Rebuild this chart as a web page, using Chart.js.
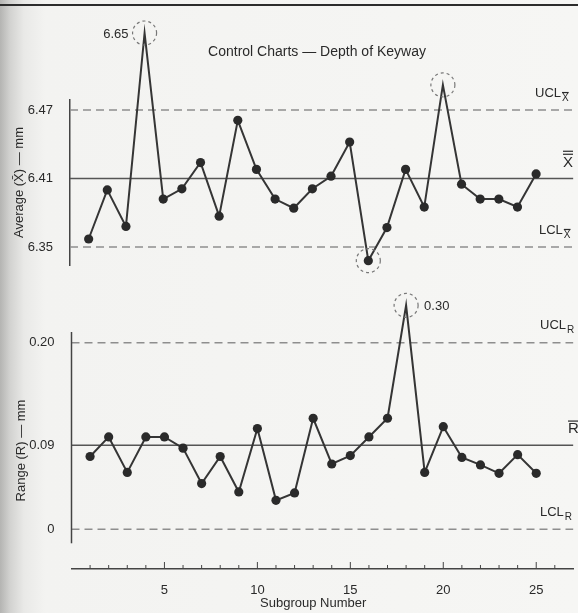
<!DOCTYPE html>
<html>
<head>
<meta charset="utf-8">
<script src="https://cdn.jsdelivr.net/npm/chart.js@4.4.1/dist/chart.umd.min.js"></script>
<style>
  html, body { margin: 0; padding: 0; }
  body {
    width: 578px; height: 613px; overflow: hidden; position: relative;
    background: linear-gradient(to right, #b4b4b2 0px, #d2d2d0 10px, #e9e9e7 24px, #f3f3f1 45px, #f6f6f4 100%);
  }
  #rule { position: absolute; left: 0; top: 4px; width: 578px; height: 2px; background: #2c2c2c; }
  canvas { position: absolute; left: 0; top: 0; }
</style>
</head>
<body>
<div id="rule"></div>
<canvas id="rangeChart" width="578" height="613"></canvas>
<canvas id="xbarChart" width="578" height="613"></canvas>
<script>
// subgroup numbers and the plotted values
const subgroups = [1, 2, 3, 4, 5, 6, 7, 8, 9, 10, 11, 12, 13, 14, 15, 16, 17, 18, 19, 20, 21, 22, 23, 24, 25];
const xbarValues = [6.357, 6.40, 6.368, 6.65, 6.392, 6.401, 6.424, 6.377, 6.461, 6.418, 6.392, 6.384, 6.401,
                    6.412, 6.442, 6.338, 6.367, 6.418, 6.385, 6.492, 6.405, 6.392, 6.392, 6.385, 6.414];
const rangeValues = [0.078, 0.099, 0.061, 0.099, 0.099, 0.087, 0.049, 0.078, 0.040, 0.108, 0.031, 0.039, 0.119,
                     0.070, 0.079, 0.099, 0.119, 0.30, 0.061, 0.110, 0.077, 0.069, 0.060, 0.080, 0.060];

// control limits [LCL, centre, UCL] = also the y tick labels
const xbarLimits = [6.35, 6.41, 6.47];
const rangeLimits = [0, 0.09, 0.20];
const xTicks = [5, 10, 15, 20, 25];

// points ringed in the figure (out of control)
const xbarCircled = [4, 16, 20];
const rangeCircled = [18];

const X_MIN = 0, X_MAX = 27;
const INK = '#2a2a2a';
const FONT = '"Liberation Sans", Arial, Helvetica, sans-serif';

Chart.defaults.font.family = FONT;
Chart.defaults.font.size = 13;
Chart.defaults.color = INK;

// linear scale with a compressed zone above breakAt (the figure's broken scale)
class BrokenScale extends Chart.LinearScale {
  getPixelForValue(value) {
    const at = this.options.breakAt, k = this.options.breakRatio;
    if (at != null && value > at) value = at + (value - at) * k;
    return super.getPixelForValue(value);
  }
}
BrokenScale.id = 'broken';
BrokenScale.defaults = Chart.LinearScale.defaults;
Chart.register(BrokenScale);

function limitLine(y, dashed, color) {
  return {
    data: [{ x: X_MIN, y: y }, { x: X_MAX, y: y }],
    borderColor: color, borderWidth: 1.5, borderDash: dashed ? [8, 5] : [],
    pointRadius: 0, fill: false
  };
}

function seriesSet(values) {
  return {
    data: subgroups.map((s, i) => ({ x: s, y: values[i] })),
    borderColor: '#353535', borderWidth: 2, tension: 0,
    pointRadius: 4.6, pointBackgroundColor: '#2a2a2a', pointBorderWidth: 0,
    clip: false
  };
}

// symbol letter with optional bars over it
function symbol(ctx, x, y, letter, size, bars) {
  ctx.font = size + 'px ' + FONT;
  ctx.textAlign = 'left';
  ctx.textBaseline = 'middle';
  ctx.fillText(letter, x, y);
  const w = ctx.measureText(letter).width;
  ctx.lineWidth = 1.2;
  for (let b = 0; b < bars; b++) {
    const by = y - size * 0.55 - b * 3;
    ctx.beginPath(); ctx.moveTo(x, by); ctx.lineTo(x + w, by); ctx.stroke();
  }
  return w;
}

const decor = {
  id: 'decor',
  afterDatasetsDraw(chart, args, o) {
    const ctx = chart.ctx, ys = chart.scales.y;
    const pts = chart.getDatasetMeta(0).data;
    ctx.save();
    ctx.fillStyle = INK; ctx.strokeStyle = INK;

    // dashed rings
    ctx.setLineDash([3, 3]); ctx.lineWidth = 1.2; ctx.strokeStyle = '#777';
    o.circled.forEach(s => {
      const p = pts[s - 1];
      ctx.beginPath(); ctx.arc(p.x, p.y, 12, 0, Math.PI * 2); ctx.stroke();
    });
    ctx.setLineDash([]);
    ctx.strokeStyle = INK;

    // value note beside the ringed extreme
    ctx.font = '13px ' + FONT; ctx.textBaseline = 'middle';
    const p = pts[o.note - 1];
    const left = o.noteSide === 'left';
    ctx.textAlign = left ? 'right' : 'left';
    ctx.fillText(o.values[o.note - 1].toFixed(2), p.x + (left ? -16 : 18), p.y + 1);

    // limit labels on the right
    const [lcl, cl, ucl] = o.limits;
    let y = ys.getPixelForValue(ucl) - 17;
    ctx.font = '13px ' + FONT; ctx.textAlign = 'left';
    ctx.fillText('UCL', o.uclX, y);
    let w = ctx.measureText('UCL').width;
    symbol(ctx, o.uclX + w + 1, y + 5, o.letter, 10, o.subBars);

    y = ys.getPixelForValue(lcl) - 17;
    ctx.font = '13px ' + FONT;
    ctx.fillText('LCL', o.lclX, y);
    w = ctx.measureText('LCL').width;
    symbol(ctx, o.lclX + w + 1, y + 5, o.letter, 10, o.subBars);

    y = ys.getPixelForValue(cl) - 16;
    symbol(ctx, o.clX, y, o.letter, 15, o.subBars + 1);

    ctx.restore();
  }
};

const extras = {
  id: 'extras',
  afterDraw(chart, args, o) {
    const ctx = chart.ctx, ys = chart.scales.y, xs = chart.scales.x, a = chart.chartArea;
    ctx.save();
    ctx.fillStyle = INK;
    if (o.title) {
      ctx.font = '14px ' + FONT; ctx.textAlign = 'center'; ctx.textBaseline = 'middle';
      ctx.fillText(o.title, 317, 52);
    }
    if (o.bottomAxis) {
      ctx.strokeStyle = '#444'; ctx.lineWidth = 1.5;
      // y axis stops short of the subgroup axis
      ctx.beginPath();
      ctx.moveTo(a.left, a.top); ctx.lineTo(a.left, ys.getPixelForValue(o.axisEnd));
      ctx.stroke();
      // small ticks pointing up from the subgroup axis
      ctx.lineWidth = 1;
      for (let s = 1; s < X_MAX; s++) {
        const x = xs.getPixelForValue(s);
        ctx.beginPath(); ctx.moveTo(x, a.bottom); ctx.lineTo(x, a.bottom - (s % 5 === 0 ? 7 : 4)); ctx.stroke();
      }
      ctx.font = '13px ' + FONT; ctx.textAlign = 'center'; ctx.textBaseline = 'middle';
      ctx.fillText('Subgroup Number', xs.getPixelForValue(13), 603);
    }
    ctx.restore();
  }
};

new Chart(document.getElementById('xbarChart'), {
  type: 'line',
  data: {
    datasets: [
      seriesSet(xbarValues),
      limitLine(xbarLimits[2], true, '#8e8e8e'),
      limitLine(xbarLimits[1], false, '#555'),
      limitLine(xbarLimits[0], true, '#8e8e8e')
    ]
  },
  options: {
    responsive: false, animation: false, devicePixelRatio: 1,
    layout: { padding: { left: 8, top: 100, right: 0, bottom: 348 } },
    plugins: {
      legend: { display: false }, tooltip: { enabled: false },
      decor: { circled: xbarCircled, note: 4, noteSide: 'left', values: xbarValues, limits: xbarLimits,
               letter: 'X', subBars: 1, uclX: 535, lclX: 539, clX: 563 },
      extras: { title: 'Control Charts \u2014 Depth of Keyway' }
    },
    scales: {
      x: { type: 'linear', min: X_MIN, max: X_MAX, display: false },
      y: {
        type: 'broken', min: 6.3342, max: 6.4788, bounds: 'data',
        breakAt: 6.50, breakRatio: 0.25,
        afterFit: s => { s.width = 62; },
        afterBuildTicks: s => { s.ticks = xbarLimits.map(v => ({ value: v })); },
        grid: { display: false },
        border: { display: true, color: '#444', width: 1.5 },
        ticks: { padding: 9, color: INK, callback: v => v.toFixed(2) },
        title: { display: true, text: 'Average (X\u0304) \u2014 mm', color: INK, font: { size: 13 }, padding: { top: 4, bottom: 0 } }
      }
    }
  },
  plugins: [decor, extras]
});

new Chart(document.getElementById('rangeChart'), {
  type: 'line',
  data: {
    datasets: [
      seriesSet(rangeValues),
      limitLine(rangeLimits[2], true, '#8e8e8e'),
      limitLine(rangeLimits[1], false, '#555'),
      limitLine(rangeLimits[0], true, '#8e8e8e')
    ]
  },
  options: {
    responsive: false, animation: false, devicePixelRatio: 1,
    layout: { padding: { left: 9.5, top: 332, right: 0, bottom: 0 } },
    plugins: {
      legend: { display: false }, tooltip: { enabled: false },
      decor: { circled: rangeCircled, note: 18, noteSide: 'right', values: rangeValues, limits: rangeLimits,
               letter: 'R', subBars: 0, uclX: 540, lclX: 540, clX: 568 },
      extras: { bottomAxis: true, axisEnd: -0.015 }
    },
    scales: {
      x: {
        type: 'linear', min: X_MIN, max: X_MAX, bounds: 'data',
        afterFit: s => { s.height = 44; },
        afterBuildTicks: s => { s.ticks = xTicks.map(v => ({ value: v })); },
        grid: { display: false },
        border: { display: true, color: '#444', width: 1.5 },
        ticks: { padding: 6, color: INK, maxRotation: 0 }
      },
      y: {
        type: 'broken', min: -0.04256, max: 0.21147, bounds: 'data',
        breakAt: 0.22, breakRatio: 0.25,
        afterFit: s => { s.width = 62; },
        afterBuildTicks: s => { s.ticks = rangeLimits.map(v => ({ value: v })); },
        grid: { display: false },
        border: { display: false },
        ticks: { padding: 9, color: INK, callback: v => (v === 0 ? '0' : v.toFixed(2)) },
        title: { display: true, text: 'Range (R) \u2014 mm', color: INK, font: { size: 13 }, padding: { top: 4, bottom: 0 } }
      }
    }
  },
  plugins: [decor, extras]
});
</script>
</body>
</html>
